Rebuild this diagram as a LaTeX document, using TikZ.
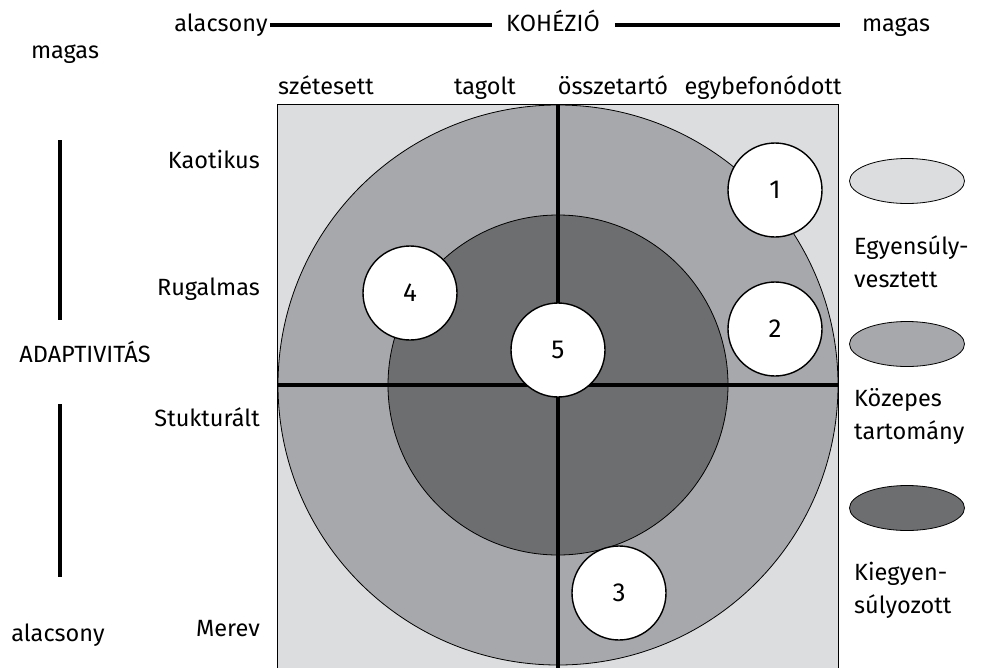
\documentclass[tikz,border=0pt]{standalone}
\usepackage{fontspec}
\setmainfont{Fira Sans}
\usetikzlibrary{shapes.geometric}

\definecolor{zonelight}{HTML}{DCDDDF}
\definecolor{zonemid}{HTML}{A7A8AB}
\definecolor{zonedark}{HTML}{6D6E70}

\tikzset{
    lbl/.style={font=\fontsize{23.5}{33}\selectfont, inner sep=2pt, text height=17pt, text depth=5pt},
    num/.style={circle, draw=black, line width=1.4pt, fill=white, minimum size=94pt,
        inner sep=0pt, font=\fontsize{26}{28}\selectfont},
    axis/.style={line width=4.5pt},
    cross/.style={line width=3.5pt},
    legend/.style={ellipse, draw=black, line width=0.8pt, minimum width=115pt, minimum height=45pt}
}

\begin{document}
\begin{tikzpicture}[x=1pt,y=-1pt]
    \useasboundingbox (0,0) rectangle (985,667);
    % Cohesion axis
    \node[lbl] (Coh-lo) at (221,25) {alacsony};
    \node[lbl] (Coh) at (553,25) {KOHÉZIÓ};
    \node[lbl] (Coh-hi) at (896,25) {magas};
    \draw[axis] (Coh-lo.east) -- ([xshift=-12pt]Coh.west);
    \draw[axis] ([xshift=13pt]Coh.east) -- ([xshift=-20pt]Coh-hi.west);
    % Cohesion levels
    \foreach \name/\x/\i in {szétesett/326/1,tagolt/485/2,összetartó/613/3,egybefonódott/763/4} {
        \node[lbl] (Col-\i) at (\x,88) {\name};
    }
    % Adaptivity axis
    \node[lbl] (Ada-hi) at (65,52) {magas};
    \node[lbl] (Ada) at (85,356) {ADAPTIVITÁS};
    \node[lbl] (Ada-lo) at (58,635) {alacsony};
    \coordinate (Bar1-a) at (60,140);
    \coordinate (Bar1-b) at (60,320);
    \coordinate (Bar2-a) at (60,404);
    \coordinate (Bar2-b) at (60,577);
    \draw[axis] (Bar1-a) -- (Bar1-b);
    \draw[axis] (Bar2-a) -- (Bar2-b);
    % Adaptivity levels
    \foreach \name/\y/\i in {Kaotikus/162/1,Rugalmas/289/2,Stukturált/420/3,Merev/630/4} {
        \node[lbl, anchor=east] (Row-\i) at (262,\y) {\name};
    }
    % Field
    \fill[zonelight] (277,104) rectangle (838,690);
    \begin{scope}
        \clip (277,104) rectangle (838,690);
        \draw[fill=zonemid, line width=0.8pt] (558,385) circle [radius=280pt];
        \draw[fill=zonedark, line width=0.8pt] (558,385) circle [radius=170pt];
        \coordinate (Top) at (558,104);
        \coordinate (Bottom) at (558,690);
        \coordinate (Left) at (277,385);
        \coordinate (Right) at (838,385);
        \draw[cross] (Top) -- (Bottom);
        \draw[cross] (Left) -- (Right);
    \end{scope}
    \draw[line width=1pt] (277,690) -- (277,104) -- (838,104) -- (838,690);
    % Family types
    \foreach \i/\x/\y in {1/775/190,2/775/329,3/619/593,4/410/293,5/558/350} {
        \node[num] (Type-\i) at (\x,\y) {\i};
    }
    % Legend
    \node[legend, fill=zonelight] (Key-1) at (907,181) {};
    \node[legend, fill=zonemid] (Key-2) at (907,344) {};
    \node[legend, fill=zonedark] (Key-3) at (907,508) {};
    \node[lbl, anchor=west, align=left, text height=, text depth=] (Key-1-text) at (852,262) {Egyensúly-\\vesztett};
    \node[lbl, anchor=west, align=left, text height=, text depth=] (Key-2-text) at (852,416) {Közepes\\tartomány};
    \node[lbl, anchor=west, align=left, text height=, text depth=] (Key-3-text) at (852,590) {Kiegyen-\\súlyozott};
\end{tikzpicture}
\end{document}
